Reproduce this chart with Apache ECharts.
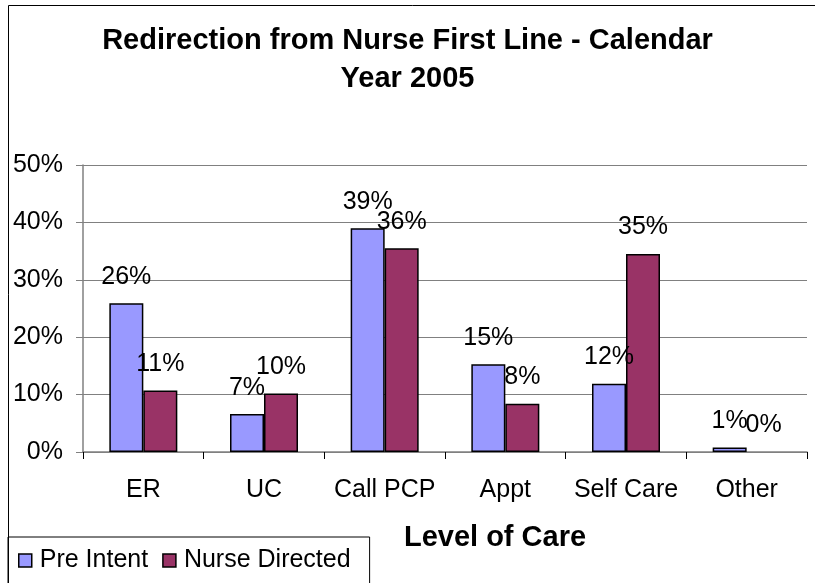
<!DOCTYPE html>
<html>
<head>
<meta charset="utf-8">
<script src="https://cdn.jsdelivr.net/npm/echarts@6/dist/echarts.min.js"></script>
<style>
  html, body { margin: 0; padding: 0; background: #fff; }
  #main { width: 815px; height: 583px; }
</style>
</head>
<body>
<div id="main"></div>
<script>
var categories = ['ER', 'UC', 'Call PCP', 'Appt', 'Self Care', 'Other'];
var preIntent = [25.9, 6.6, 39.0, 15.3, 11.9, 0.8];
var nurseDirected = [10.7, 10.2, 35.5, 8.4, 34.5, 0];
var yTicks = [0, 10, 20, 30, 40, 50];

var chart = echarts.init(document.getElementById('main'));
var font = 'Liberation Sans, Arial, sans-serif';

function pct(p) { return Math.round(p.value) + '%'; }
// a zero bar should not leave a dark outline on the axis
function barData(arr) {
  return arr.map(function (v) {
    return v === 0 ? { value: v, itemStyle: { borderWidth: 0 } } : v;
  });
}

chart.setOption({
  animation: false,
  textStyle: { fontFamily: font },
  title: {
    text: 'Redirection from Nurse First Line - Calendar\nYear 2005',
    left: 'center',
    top: 17,
    textStyle: { fontSize: 29, fontWeight: 'bold', color: '#000', lineHeight: 38, fontFamily: font }
  },
  graphic: [{
    type: 'rect',
    shape: { x: 8.5, y: 5.5, width: 820, height: 600 },
    style: { fill: 'none', stroke: '#000', lineWidth: 1 },
    silent: true
  }],
  legend: {
    left: 8,
    top: 537,
    icon: 'rect',
    itemWidth: 13,
    itemHeight: 13,
    itemGap: 14,
    padding: [11, 19, 30, 10],
    borderColor: '#000',
    borderWidth: 1,
    itemStyle: { borderColor: '#000', borderWidth: 1.5 },
    textStyle: { fontSize: 25, color: '#000', fontFamily: font, padding: [0, 0, 0, 3] },
    data: ['Pre Intent', 'Nurse Directed']
  },
  grid: { left: 83, right: 8, top: 165, bottom: 131 },
  xAxis: {
    type: 'category',
    data: categories,
    name: 'Level of Care',
    nameLocation: 'middle',
    nameGap: 71,
    nameTextStyle: { fontSize: 29, fontWeight: 'bold', color: '#000', fontFamily: font, padding: [0, 0, 0, 100] },
    axisLine: { lineStyle: { color: '#808080', width: 1.5 } },
    axisTick: { show: true, length: 7, lineStyle: { color: '#000' } },
    axisLabel: { fontSize: 25, color: '#000', margin: 26, interval: 0, fontFamily: font }
  },
  yAxis: {
    type: 'value',
    min: 0,
    max: 50,
    interval: 10,
    axisLine: { show: true, lineStyle: { color: '#808080', width: 1.5 } },
    axisTick: { show: true, length: 7, lineStyle: { color: '#808080' } },
    splitLine: { lineStyle: { color: '#808080', width: 1.2 } },
    axisLabel: {
      fontSize: 25, color: '#000', margin: 20, fontFamily: font,
      formatter: function (v) { return yTicks.indexOf(v) >= 0 ? v + '%' : ''; }
    }
  },
  series: [{
    name: 'Pre Intent',
    type: 'bar',
    data: barData(preIntent),
    barWidth: 34,
    barGap: '0%',
    itemStyle: { color: '#9999FF', borderColor: '#000', borderWidth: 1.5 },
    label: { show: true, position: 'top', distance: 14, fontSize: 25, color: '#000', fontFamily: font, formatter: pct }
  }, {
    name: 'Nurse Directed',
    type: 'bar',
    data: barData(nurseDirected),
    barWidth: 34,
    barGap: '0%',
    itemStyle: { color: '#993366', borderColor: '#000', borderWidth: 1.5 },
    label: { show: true, position: 'top', distance: 14, fontSize: 25, color: '#000', fontFamily: font, formatter: pct }
  }]
});
</script>
</body>
</html>
